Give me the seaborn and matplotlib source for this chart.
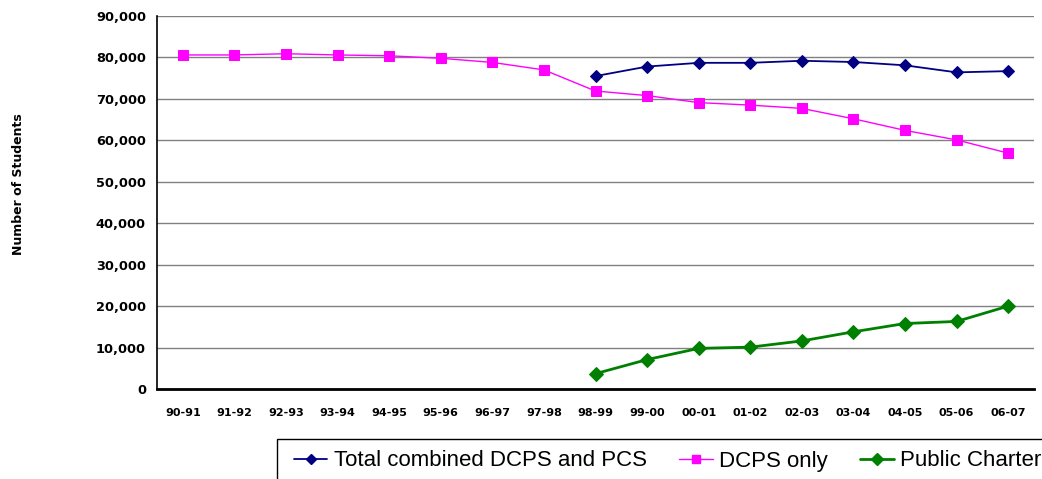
import numpy as np
import pandas as pd
import matplotlib
matplotlib.use("Agg")
import matplotlib.pyplot as plt
import matplotlib.ticker as mticker
from matplotlib.lines import Line2D
from matplotlib.patches import Rectangle
import seaborn as sns

years = ["90-91", "91-92", "92-93", "93-94", "94-95", "95-96", "96-97", "97-98",
         "98-99", "99-00", "00-01", "01-02", "02-03", "03-04", "04-05", "05-06", "06-07"]

total = [np.nan] * 8 + [75500, 77800, 78700, 78700, 79200, 78900, 78100, 76400, 76700]
dcps = [80600, 80600, 80900, 80600, 80400, 79800, 78800, 77000,
        71900, 70800, 69100, 68500, 67700, 65200, 62400, 60100, 56900]
charter = [np.nan] * 8 + [3700, 7100, 9800, 10100, 11600, 13800, 15800, 16300, 20000]

df = pd.DataFrame({"pos": np.arange(len(years)), "year": years,
                   "total": total, "dcps": dcps, "charter": charter})

sns.set_style("white")
plt.rcParams["font.family"] = ["DejaVu Sans"]
plt.rcParams.update({"text.color": "black", "axes.labelcolor": "black",
                     "xtick.color": "black", "ytick.color": "black"})

fig = plt.figure(figsize=(10.42, 4.79), dpi=100)
ax = fig.add_axes([157 / 1042, 1 - 389 / 479, (1034 - 157) / 1042, (389 - 16) / 479])

ax.yaxis.grid(True, color="#808080", lw=1.0)
ax.set_axisbelow(True)

sns.lineplot(data=df, x="pos", y="total", ax=ax, color="#000080", lw=1.3,
             marker="D", markersize=6, markeredgecolor="#000080")
sns.lineplot(data=df, x="pos", y="dcps", ax=ax, color="#FF00FF", lw=1.0,
             marker="s", markersize=7, markeredgecolor="#FF00FF")
sns.lineplot(data=df, x="pos", y="charter", ax=ax, color="#008000", lw=2.0,
             marker="D", markersize=7, markeredgecolor="#008000")

ax.set_xlim(-0.5, len(years) - 0.5)
ax.set_ylim(0, 90000)
ax.set_yticks(np.arange(0, 90001, 10000))
ax.yaxis.set_major_formatter(mticker.FuncFormatter(lambda v, p: f"{v:,.0f}"))
ax.set_xticks(df["pos"])
ax.set_xticklabels(years)
ax.set_xticks(np.arange(-0.5, len(years), 1), minor=True)
ax.tick_params(axis="x", which="major", length=0, pad=14, labelsize=8)
ax.tick_params(axis="x", which="minor", length=4, width=1.2, direction="out", color="black")
ax.tick_params(axis="y", length=4, width=1, direction="out", color="black", labelsize=9.3, pad=4)
for lab in ax.get_xticklabels() + ax.get_yticklabels():
    lab.set_fontweight("bold")

ax.set_xlabel("")
ax.set_ylabel("Number of Students", fontsize=9, fontweight="bold")
ax.yaxis.set_label_coords(-0.151, 0.55)

for s in ["top", "right"]:
    ax.spines[s].set_visible(False)
ax.spines["left"].set_color("black")
ax.spines["left"].set_linewidth(1.2)
ax.spines["bottom"].set_color("black")
ax.spines["bottom"].set_linewidth(2.0)

# legend box runs off the bottom/right edge of the figure
fig.patches.append(Rectangle((277 / 1042, -0.1), 1.0, 0.1 + (479 - 439) / 479,
                             transform=fig.transFigure, fill=False,
                             edgecolor="black", lw=1.0))

handles = [
    Line2D([], [], color="#000080", lw=1.3, marker="D", markersize=5),
    Line2D([], [], color="#FF00FF", lw=1.0, marker="s", markersize=6),
    Line2D([], [], color="#008000", lw=2.0, marker="D", markersize=6),
]
labels = ["Total combined DCPS and PCS", "DCPS only", "Public Charter"]
leg = fig.legend(handles, labels, loc="center left", bbox_to_anchor=(294 / 1042, 1 - 461 / 479),
                 ncol=3, frameon=False,
                 prop={"family": "Liberation Sans", "size": 16}, handlelength=1.5,
                 handletextpad=0.3, columnspacing=1.45, borderpad=0, borderaxespad=0)

fig.savefig("out.png", dpi=100)
